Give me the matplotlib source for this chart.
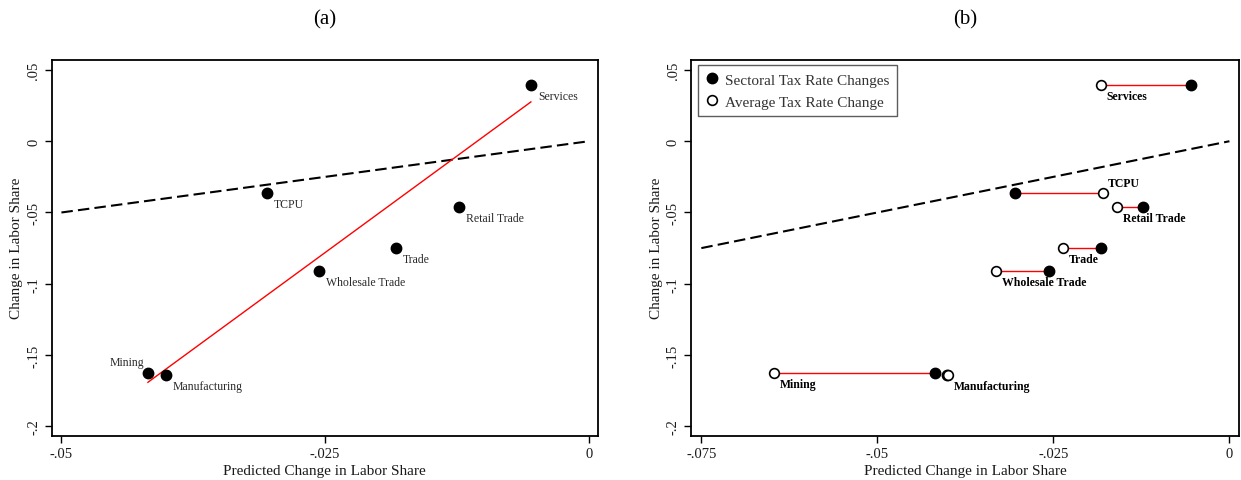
import matplotlib
matplotlib.use("Agg")
import matplotlib.pyplot as plt
from matplotlib.lines import Line2D

plt.rcParams["font.family"] = ["Liberation Serif", "DejaVu Serif"]

sectors = ["Services", "TCPU", "Retail Trade", "Trade",
           "Wholesale Trade", "Mining", "Manufacturing"]
predicted_sectoral = [-0.0055, -0.0305, -0.0123, -0.0183, -0.0256, -0.0418, -0.0401]
predicted_average = [-0.0183, -0.0180, -0.0159, -0.0236, -0.0331, -0.0647, -0.0399]
actual_change = [0.0393, -0.0361, -0.0459, -0.0746, -0.0912, -0.1626, -0.1638]

# fitted line drawn in panel (a)
fit_slope = 5.42
fit_intercept = 0.0574

xticks_a = [-0.05, -0.025, 0]
xticklabels_a = ["-.05", "-.025", "0"]
xticks_b = [-0.075, -0.05, -0.025, 0]
xticklabels_b = ["-.075", "-.05", "-.025", "0"]
yticks = [0.05, 0, -0.05, -0.1, -0.15, -0.2]
yticklabels = [".05", "0", "-.05", "-.1", "-.15", "-.2"]

# label placement (offset in points, alignment)
label_pos_a = {"Mining": (-3, 8, "right")}
label_pos_b = {"TCPU": (4, 7, "left")}

W, H = 1241, 481
fig = plt.figure(figsize=(W / 100, H / 100), dpi=100)
ax_a = fig.add_axes([51.5 / W, 1 - 436.5 / H, (598 - 51.5) / W, (436.5 - 61) / H])
ax_b = fig.add_axes([691 / W, 1 - 436.5 / H, (1239 - 691) / W, (436.5 - 61) / H])

text_color = "#1a1a1a"


def style_axes(ax, xticks, xlabels, xlim):
    ax.set_xlim(*xlim)
    ax.set_ylim(-0.2065, 0.057)
    ax.set_xticks(xticks)
    ax.set_xticklabels(xlabels, fontsize=10.5, color=text_color)
    ax.set_yticks(yticks)
    ax.set_yticklabels(yticklabels, fontsize=10.5, color=text_color,
                       rotation=90, va="center")
    ax.tick_params(direction="out", length=5, width=1.0, pad=3)
    for sp in ax.spines.values():
        sp.set_linewidth(1.3)
    ax.set_xlabel("Predicted Change in Labor Share", fontsize=11, color=text_color, labelpad=3)
    ax.set_ylabel("Change in Labor Share", fontsize=11, color=text_color, labelpad=3)


# ---- panel (a)
style_axes(ax_a, xticks_a, xticklabels_a, (-0.05094, 0.00086))
ax_a.plot([-0.05, 0], [-0.05, 0], color="black", lw=1.5, ls=(0, (5.5, 2.5)), zorder=2)
x0, x1 = min(predicted_sectoral), max(predicted_sectoral)
ax_a.plot([x0, x1], [fit_intercept + fit_slope * x0, fit_intercept + fit_slope * x1],
          color="red", lw=1.0, zorder=3)
ax_a.plot(predicted_sectoral, actual_change, "o", color="black", ms=7.5, zorder=4)
for name, x, y in zip(sectors, predicted_sectoral, actual_change):
    dx, dy, ha = label_pos_a.get(name, (5, -8, "left"))
    ax_a.annotate(name, (x, y), xytext=(dx, dy), textcoords="offset points",
                  ha=ha, va="center", fontsize=8.5, color="#2a2a2a")
ax_a.set_title("(a)", fontsize=15, pad=26)

# ---- panel (b)
style_axes(ax_b, xticks_b, xticklabels_b, (-0.07647, 0.00136))
ax_b.plot([-0.075, 0], [-0.075, 0], color="black", lw=1.5, ls=(0, (5.5, 2.5)), zorder=2)
for xs, xa, y in zip(predicted_sectoral, predicted_average, actual_change):
    ax_b.plot([xs, xa], [y, y], color="red", lw=1.0, zorder=3)
ax_b.plot(predicted_sectoral, actual_change, "o", color="black", ms=7.5, zorder=4)
ax_b.plot(predicted_average, actual_change, "o", mfc="white", mec="black", mew=1.2,
          ms=7.0, zorder=5)
for name, x, y in zip(sectors, predicted_average, actual_change):
    dx, dy, ha = label_pos_b.get(name, (4, -8, "left"))
    ax_b.annotate(name, (x, y), xytext=(dx, dy), textcoords="offset points",
                  ha=ha, va="center", fontsize=8.5, color="black", weight="bold")
ax_b.set_title("(b)", fontsize=15, pad=26)

handles = [
    Line2D([], [], ls="none", marker="o", color="black", ms=7.5),
    Line2D([], [], ls="none", marker="o", mfc="white", mec="black", mew=1.2, ms=7.0),
]
leg = ax_b.legend(handles, ["Sectoral Tax Rate Changes", "Average Tax Rate Change"],
                  loc="upper left", bbox_to_anchor=(0.0125, 0.986), fontsize=11,
                  frameon=True, fancybox=False, edgecolor="#333333",
                  handletextpad=0.5, handlelength=0.8, borderpad=0.5,
                  labelspacing=0.55, borderaxespad=0)
leg.get_frame().set_linewidth(1.0)
for t in leg.get_texts():
    t.set_color("#333333")

fig.savefig("out.png", dpi=100)
